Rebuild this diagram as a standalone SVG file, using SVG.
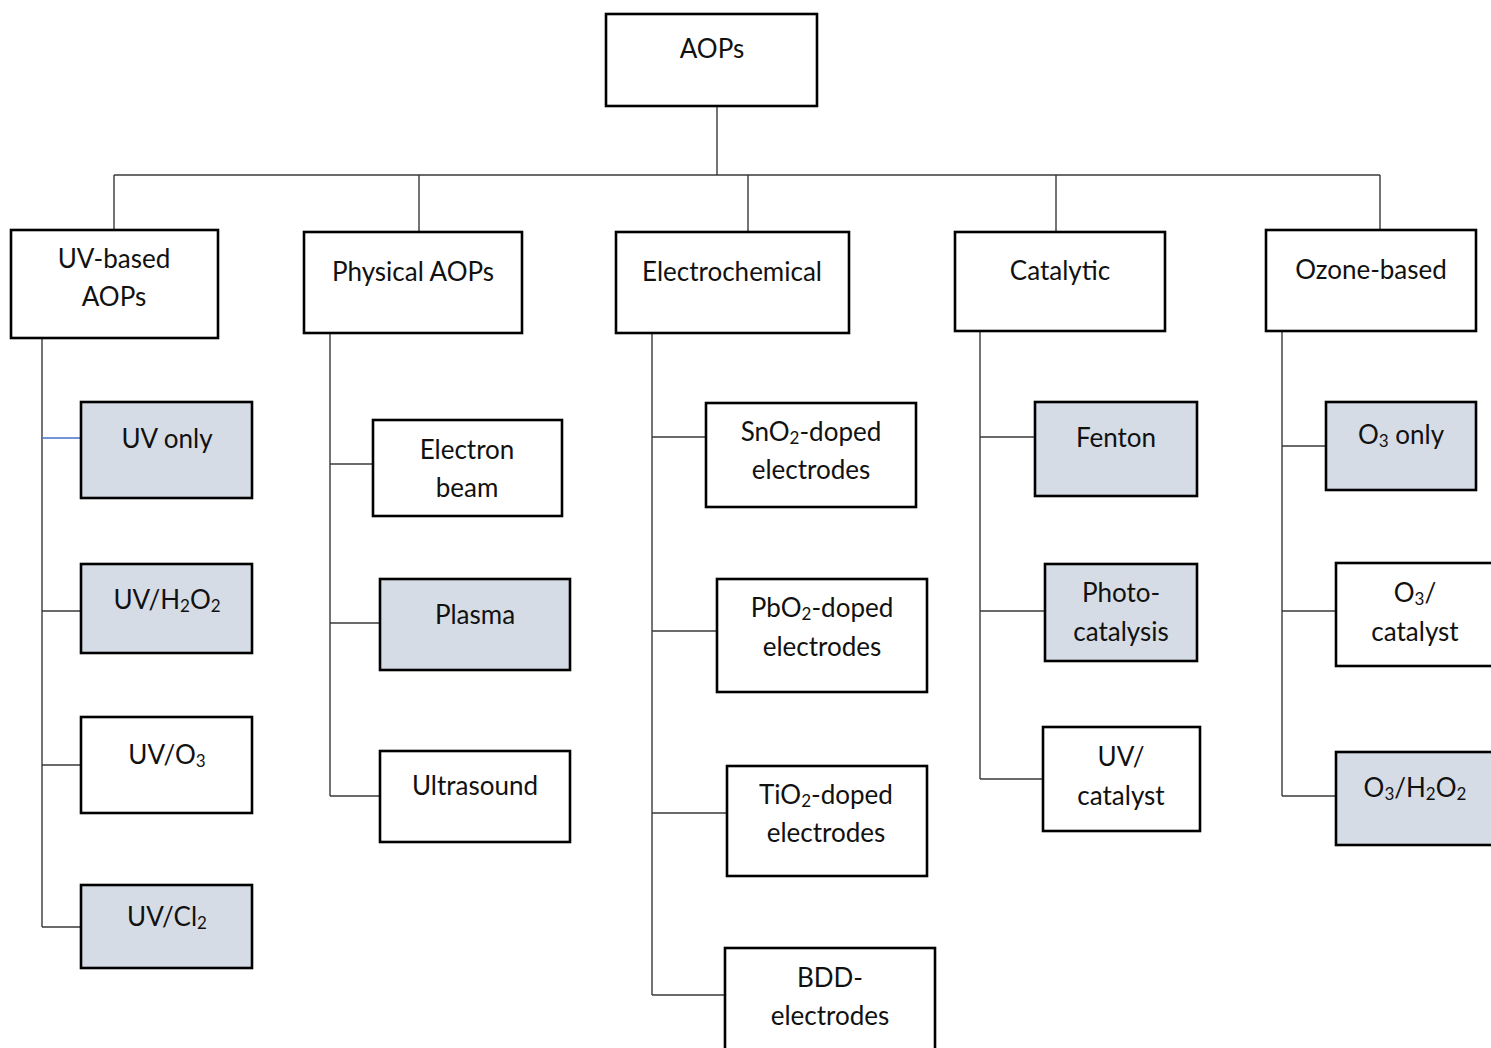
<svg xmlns="http://www.w3.org/2000/svg" width="1491" height="1048" viewBox="0 0 1491 1048">
<style>
.b{fill:#fff;stroke:#000;stroke-width:2.6}
.s{fill:#d6dce5;stroke:#000;stroke-width:2.6}
.c{fill:none;stroke:#3a3a3a;stroke-width:1.4}
.t{font-family:Lato,"Liberation Sans",sans-serif;font-size:26px;fill:#111;text-anchor:middle}
.sub{font-size:17px}
</style>
<rect width="1491" height="1048" fill="#fff"/>
<g id="connectors">
<path class="c" d="M717 106V175M114 175H1380M114 175V230M419 175V232M748 175V232M1056 175V232M1380 175V230"/>
<path class="c" d="M42 338V927M42 611H81M42 765H81M42 927H81"/>
<path d="M42 438H81" fill="none" stroke="#4472c4" stroke-width="1.4"/>
<path class="c" d="M330 333V796M330 464H373M330 623H380M330 796H380"/>
<path class="c" d="M652 333V995M652 437H706M652 631H717M652 813H727M652 995H725"/>
<path class="c" d="M980 331V779M980 437H1035M980 611H1045M980 779H1043"/>
<path class="c" d="M1282 331V796M1282 446H1326M1282 611H1336M1282 796H1336"/>
</g>
<g id="aops"><rect class="b" x="606" y="14" width="211" height="92"/><text class="t" x="712" y="58">AOPs</text></g>
<g id="uv-based"><rect class="b" x="11" y="230" width="207" height="108"/><text class="t" x="114" y="268">UV-based</text><text class="t" x="114" y="306">AOPs</text></g>
<g id="physical"><rect class="b" x="304" y="232" width="218" height="101"/><text class="t" x="413" y="281">Physical AOPs</text></g>
<g id="electrochemical"><rect class="b" x="616" y="232" width="233" height="101"/><text class="t" x="732" y="281">Electrochemical</text></g>
<g id="catalytic"><rect class="b" x="955" y="232" width="210" height="99"/><text class="t" x="1060" y="280">Catalytic</text></g>
<g id="ozone-based"><rect class="b" x="1266" y="230" width="210" height="101"/><text class="t" x="1371" y="279">Ozone-based</text></g>

<g id="uv-only"><rect class="s" x="81" y="402" width="171" height="96"/><text class="t" x="167" y="448">UV only</text></g>
<g id="uv-h2o2"><rect class="s" x="81" y="564" width="171" height="89"/><text class="t" x="167" y="609">UV/H<tspan class="sub" dy="3">2</tspan><tspan dy="-3">O</tspan><tspan class="sub" dy="3">2</tspan></text></g>
<g id="uv-o3"><rect class="b" x="81" y="717" width="171" height="96"/><text class="t" x="167" y="764">UV/O<tspan class="sub" dy="3">3</tspan></text></g>
<g id="uv-cl2"><rect class="s" x="81" y="885" width="171" height="83"/><text class="t" x="167" y="926">UV/Cl<tspan class="sub" dy="3">2</tspan></text></g>

<g id="electron-beam"><rect class="b" x="373" y="420" width="189" height="96"/><text class="t" x="467" y="459">Electron</text><text class="t" x="467" y="497">beam</text></g>
<g id="plasma"><rect class="s" x="380" y="579" width="190" height="91"/><text class="t" x="475" y="624">Plasma</text></g>
<g id="ultrasound"><rect class="b" x="380" y="751" width="190" height="91"/><text class="t" x="475" y="795">Ultrasound</text></g>

<g id="sno2"><rect class="b" x="706" y="403" width="210" height="104"/><text class="t" x="811" y="441">SnO<tspan class="sub" dy="3">2</tspan><tspan dy="-3">-doped</tspan></text><text class="t" x="811" y="479">electrodes</text></g>
<g id="pbo2"><rect class="b" x="717" y="579" width="210" height="113"/><text class="t" x="822" y="617">PbO<tspan class="sub" dy="3">2</tspan><tspan dy="-3">-doped</tspan></text><text class="t" x="822" y="656">electrodes</text></g>
<g id="tio2"><rect class="b" x="727" y="766" width="200" height="110"/><text class="t" x="826" y="804">TiO<tspan class="sub" dy="3">2</tspan><tspan dy="-3">-doped</tspan></text><text class="t" x="826" y="842">electrodes</text></g>
<g id="bdd"><rect class="b" x="725" y="948" width="210" height="110"/><text class="t" x="830" y="987">BDD-</text><text class="t" x="830" y="1025">electrodes</text></g>

<g id="fenton"><rect class="s" x="1035" y="402" width="162" height="94"/><text class="t" x="1116" y="447">Fenton</text></g>
<g id="photocatalysis"><rect class="s" x="1045" y="564" width="152" height="97"/><text class="t" x="1121" y="602">Photo-</text><text class="t" x="1121" y="641">catalysis</text></g>
<g id="uv-catalyst"><rect class="b" x="1043" y="727" width="157" height="104"/><text class="t" x="1121" y="766">UV/</text><text class="t" x="1121" y="805">catalyst</text></g>

<g id="o3-only"><rect class="s" x="1326" y="402" width="150" height="88"/><text class="t" x="1401" y="444">O<tspan class="sub" dy="3">3</tspan><tspan dy="-3"> only</tspan></text></g>
<g id="o3-catalyst"><rect class="b" x="1336" y="563" width="165" height="103"/><text class="t" x="1415" y="602">O<tspan class="sub" dy="3">3</tspan><tspan dy="-3">/</tspan></text><text class="t" x="1415" y="641">catalyst</text></g>
<g id="o3-h2o2"><rect class="s" x="1336" y="752" width="165" height="93"/><text class="t" x="1415" y="797">O<tspan class="sub" dy="3">3</tspan><tspan dy="-3">/H</tspan><tspan class="sub" dy="3">2</tspan><tspan dy="-3">O</tspan><tspan class="sub" dy="3">2</tspan></text></g>
</svg>
